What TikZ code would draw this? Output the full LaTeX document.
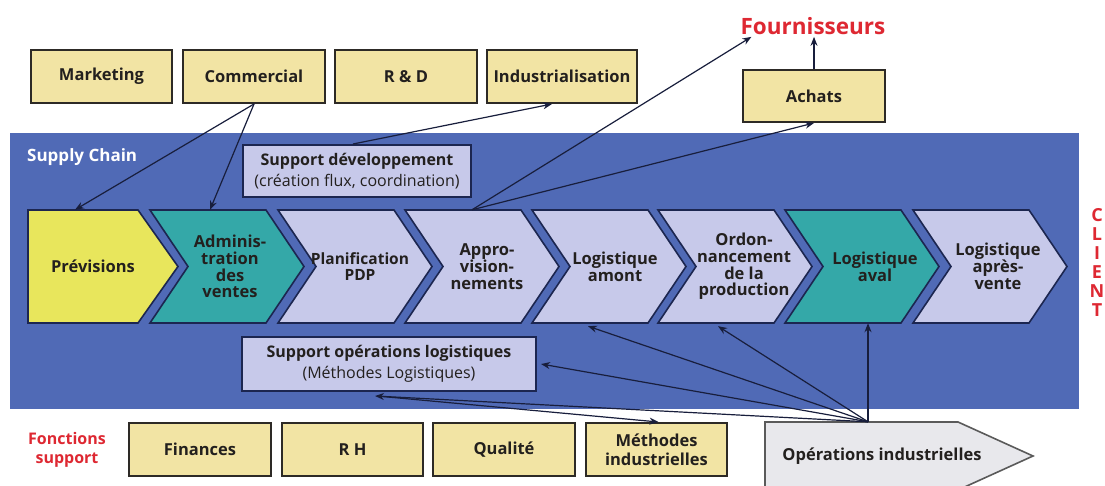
\documentclass[tikz,border=0pt]{standalone}
\usepackage{fontspec}
\setmainfont{Open Sans}
\usetikzlibrary{arrows.meta}

\definecolor{scblue}{RGB}{80,106,182}
\definecolor{boxfill}{RGB}{242,228,164}
\definecolor{boxline}{RGB}{45,42,38}
\definecolor{prevfill}{RGB}{232,230,92}
\definecolor{tealfill}{RGB}{52,168,168}
\definecolor{lavfill}{RGB}{199,201,234}
\definecolor{chevline}{RGB}{28,38,80}
\definecolor{opsfill}{RGB}{232,232,236}
\definecolor{opsline}{RGB}{90,90,90}
\definecolor{redtext}{RGB}{222,40,50}
\definecolor{arrowcol}{RGB}{24,30,60}
\definecolor{inktext}{RGB}{35,32,30}

\tikzset{
  bodyfont/.style={font=\bfseries\fontsize{16.5}{16.7}\selectfont, text=inktext},
  topbox/.style={bodyfont, draw=boxline, line width=2pt, fill=boxfill,
    minimum height=53pt, align=center, inner sep=0pt},
  chevtext/.style={bodyfont, minimum height=113pt, align=center, inner sep=0pt},
  chevshape/.style={draw=chevline, line width=1.6pt},
  supbox/.style={draw=chevline, line width=2pt, fill=lavfill, align=center,
    text=inktext, font=\fontsize{16}{21}\selectfont, inner sep=0pt},
  link/.style={draw=arrowcol, line width=1.2pt, -{Stealth[length=9pt,width=7pt]}},
  redlabel/.style={text=redtext, font=\bfseries, align=center, inner sep=2pt},
}

% one step of the chain with a notched left edge
\newcommand{\chevnotch}[2]{%
  \filldraw[chevshape, fill=#1] (#2,210) -- ++(116,0) -- ++(38,56.5) -- ++(-38,56.5)
    -- ++(-116,0) -- ++(38,-56.5) -- cycle;}

\begin{document}
\begin{tikzpicture}[x=1pt,y=-1pt]
\useasboundingbox (0,0) rectangle (1105,486);
\fill[white] (0,0) rectangle (1105,486);

% supply chain band
\fill[scblue] (10,133) rectangle (1079,409);
\node[text=white, font=\bfseries\fontsize{17}{19}\selectfont, anchor=west, inner sep=0pt]
  (sclabel) at (27,157) {Supply Chain};

% business functions above the chain
\node[topbox, minimum width=141pt] (mkt)   at (101.5,76.5) {Marketing};
\node[topbox, minimum width=142pt] (comm)  at (254,76.5)   {Commercial};
\node[topbox, minimum width=142pt] (rd)    at (406,76.5)   {R \& D};
\node[topbox, minimum width=150pt] (indus) at (562,76.5)   {Industrialisation};
\node[topbox, minimum width=142pt, minimum height=52pt] (achats) at (814,96) {Achats};
\node[redlabel, font=\bfseries\fontsize{22.5}{24}\selectfont] (fourn) at (813,26) {Fournisseurs};

% support functions below
\node[redlabel, font=\bfseries\fontsize{16}{19.5}\selectfont] (fsup) at (67,450) {Fonctions\\support};
\node[topbox, minimum width=142pt] (fin)  at (200,449.5)   {Finances};
\node[topbox, minimum width=141pt] (rh)   at (352.5,449.5) {R H};
\node[topbox, minimum width=142pt] (qual) at (504,449.5)   {Qualité};
\node[topbox, minimum width=141pt, font=\bfseries\fontsize{16.5}{19}\selectfont] (meth) at (656.5,449.5) {Méthodes\\industrielles};

% chain steps
\filldraw[chevshape, fill=prevfill] (28,210) -- (138,210) -- (178,266.5) -- (138,323) -- (28,323) -- cycle;
\chevnotch{tealfill}{150}
\chevnotch{lavfill}{278}
\chevnotch{lavfill}{405}
\chevnotch{lavfill}{532}
\chevnotch{lavfill}{658}
\chevnotch{tealfill}{785}
\chevnotch{lavfill}{913}

\node[chevtext] (prev)   at (93,266.5)  {Prévisions};
\node[chevtext] (adv)    at (230,266.5) {Adminis-\\tration\\des\\ventes};
\node[chevtext, font=\bfseries\fontsize{15.5}{16.7}\selectfont] (planif) at (360,266.5) {Planification\\PDP};
\node[chevtext] (appro)  at (487,266.5) {Appro-\\vision-\\nements};
\node[chevtext] (amont)  at (615,266.5) {Logistique\\amont};
\node[chevtext] (ordo)   at (744,266.5) {Ordon-\\nancement\\de la\\production};
\node[chevtext] (aval)   at (875,266.5) {Logistique\\aval};
\node[chevtext] (apv)    at (998,266.5) {Logistique\\après-\\vente};

% customer side
\node[redlabel, font=\bfseries\fontsize{18}{19}\selectfont] (client) at (1097,262) {C\\L\\I\\E\\N\\T};

% support boxes inside the band
\node[supbox, minimum width=228pt, minimum height=52pt] (sdev) at (357,171)
  {\textbf{Support développement}\\(création flux, coordination)};
\node[supbox, minimum width=294pt, minimum height=54pt] (sop) at (389,364)
  {\textbf{Support opérations logistiques}\\(Méthodes Logistiques)};

% industrial operations
\filldraw[fill=opsfill, draw=opsline, line width=1.6pt]
  (765,422) -- (958,422) -- (1033,456) -- (958,490) -- (765,490) -- cycle;
\node[bodyfont, minimum height=68pt, inner sep=0pt] (ops) at (882,456) {Opérations industrielles};

% flows
\draw[link] (comm.south) -- ([xshift=-18pt]prev.north);
\draw[link] (comm.south) -- ([xshift=-20pt]adv.north);
\draw[link] ([xshift=-4pt]sdev.north) -- ([xshift=-10pt]indus.south);
\draw[link] ([xshift=-15pt]appro.north) -- ([xshift=13pt]fourn.south west);
\draw[link] ([xshift=-15pt]appro.north) -- (achats.south);
\draw[link] (achats.north) -- (achats.north |- fourn.south);

\draw[link] ([xshift=-14pt]ops.north) -- ([xshift=-14pt]ops.north |- aval.south);
\draw[link] ([xshift=-14pt]ops.north) -- ([xshift=-26pt,yshift=-3pt]ordo.south);
\draw[link] ([xshift=-14pt]ops.north) -- ([xshift=-27pt,yshift=-3pt]amont.south);
\draw[link] ([xshift=-14pt]ops.north) -- ([xshift=4pt]sop.east);
\draw[link] ([xshift=-14pt]ops.north) -- ([xshift=-14pt,yshift=-4pt]sop.south);
\draw[link] ([xshift=-12pt,yshift=-4pt]sop.south) -- ([xshift=2pt]meth.north);
\end{tikzpicture}
\end{document}
